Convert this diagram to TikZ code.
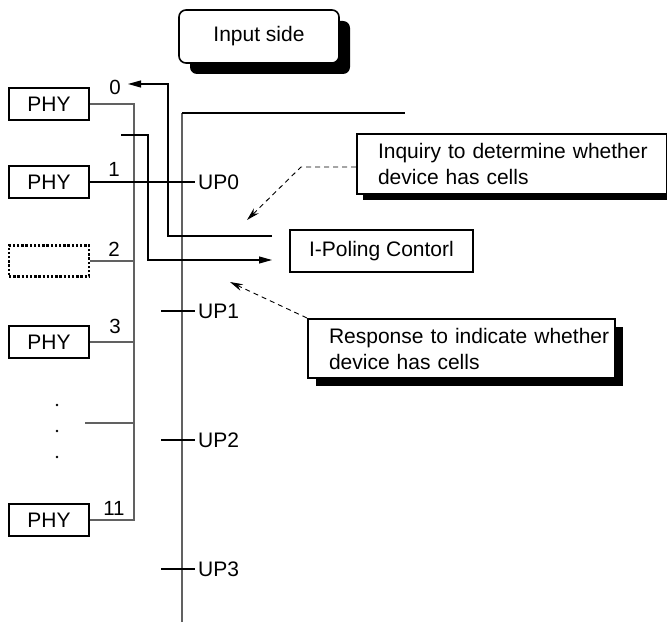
\documentclass[tikz,border=0pt]{standalone}
\usepackage{fontspec}
\setmainfont{Liberation Sans}
\usetikzlibrary{arrows.meta,shadows}
\begin{document}
\begin{tikzpicture}[x=1pt,y=-1pt,
  every node/.style={font=\fontsize{21}{26}\selectfont, inner sep=0pt},
  phybox/.style={draw, line width=2pt, minimum width=80pt, minimum height=32pt},
  ghostbox/.style={draw, line width=2.4pt, dash pattern=on 2.4pt off 1.8pt, minimum width=80pt, minimum height=31pt},
  num/.style={anchor=base, font=\fontsize{20.5}{24}\selectfont},
  uplab/.style={anchor=west},
  busline/.style={draw=black!62, line width=1.3pt},
  wire/.style={draw=black, line width=1.1pt},
  arr/.style={-{Triangle[length=13pt,width=7pt]}},
  shad/.style={drop shadow={shadow xshift=#1, shadow yshift=-#1, opacity=1, fill=black}},
  callout/.style={draw, line width=2pt, fill=white, align=left, inner xsep=21pt},
  dasharr/.style={line width=0.9pt, dash pattern=on 5pt off 4pt, -{Stealth[length=13pt,width=7pt]}},
  dotn/.style={circle, fill=black, minimum size=2.8pt},
]
\useasboundingbox (0,0) rectangle (667,628);

% title
\node[draw, line width=1.6pt, rounded corners=7pt, fill=white, minimum width=160pt, minimum height=53pt, shad=11pt] (inp) at (259,36.5) {Input side};

% PHY boxes
\node[phybox] (p0) at (49,104) {PHY};
\node[phybox] (p1) at (49,182) {PHY};
\node[ghostbox] (p2) at (49,261) {};
\node[phybox] (p3) at (49,342) {PHY};
\node[phybox] (p11) at (49,520) {PHY};

% port numbers
\node[num] (n0) at (115,95) {0};
\node[num] (n1) at (114,177) {1};
\node[num] (n2) at (114,257) {2};
\node[num] (n3) at (115,334) {3};
\node[num] (n11) at (114,515) {11};

% dots
\node[dotn] (d1) at (57,405) {};
\node[dotn] (d2) at (57,431) {};
\node[dotn] (d3) at (57,457) {};

% left bus
\coordinate (bb) at (134,520);
\draw[busline] (p0.east) -| (bb) -- (p11.east);
\draw[busline] (p2.east) -- (p2.east -| bb);
\draw[busline] (p3.east) -- (p3.east -| bb);
\coordinate (dl) at (85,423);
\draw[busline] (dl) -- (dl -| bb);

% UP labels
\node[uplab] (up0) at (198,182) {UP0};
\node[uplab] (up1) at (198,311) {UP1};
\node[uplab] (up2) at (198,440) {UP2};
\node[uplab] (up3) at (198,569) {UP3};

% main vertical line
\coordinate (mtop) at (182,113);
\coordinate (mbot) at (182,622);
\coordinate (tr) at (405,113);
\draw[busline] (mbot) -- (mtop);
\draw[wire] (mtop) -- (tr);

% UP ticks
\draw[wire] (p1.east) -- ([xshift=-3pt]up0.west);
\coordinate (t1) at (161,311);
\coordinate (t2) at (161,440);
\coordinate (t3) at (161,569);
\draw[wire] (t1) -- ([xshift=-3pt]up1.west);
\draw[wire] (t2) -- ([xshift=-3pt]up2.west);
\draw[wire] (t3) -- ([xshift=-3pt]up3.west);

% polling control
\node[draw, line width=2pt, minimum width=183pt, minimum height=42pt] (ipc) at (381.5,251) {I-Poling Contorl};

% arrow to port 0
\coordinate (a0s) at (272,236);
\coordinate (a0c) at (168,84);
\coordinate (a0e) at (128,84);
\draw[wire, arr] (a0s) -| (a0c) -- (a0e);

% arrow to polling control
\coordinate (a1s) at (121,135);
\coordinate (a1c) at (148,260);
\coordinate (a1e) at (272,260);
\draw[wire, arr] (a1s) -| (a1c) -- (a1e);

% callouts
\node[callout, shad=6pt, text width=268pt, minimum height=60pt, anchor=north west] (inq) at (356,133) {\mbox{Inquiry to determine whether}\\device has cells};
\node[callout, shad=8pt, text width=265pt, minimum height=59pt, anchor=north west] (resp) at (307,318) {\mbox{Response to indicate whether}\\device has cells};

\coordinate (qk) at (301,167);
\coordinate (qtip) at (247,220);
\draw[dasharr] (inq.west |- qk) -- (qk) -- (qtip);
\coordinate (rtip) at (230,282);
\draw[dasharr] (resp.north west) -- (rtip);
\end{tikzpicture}
\end{document}
